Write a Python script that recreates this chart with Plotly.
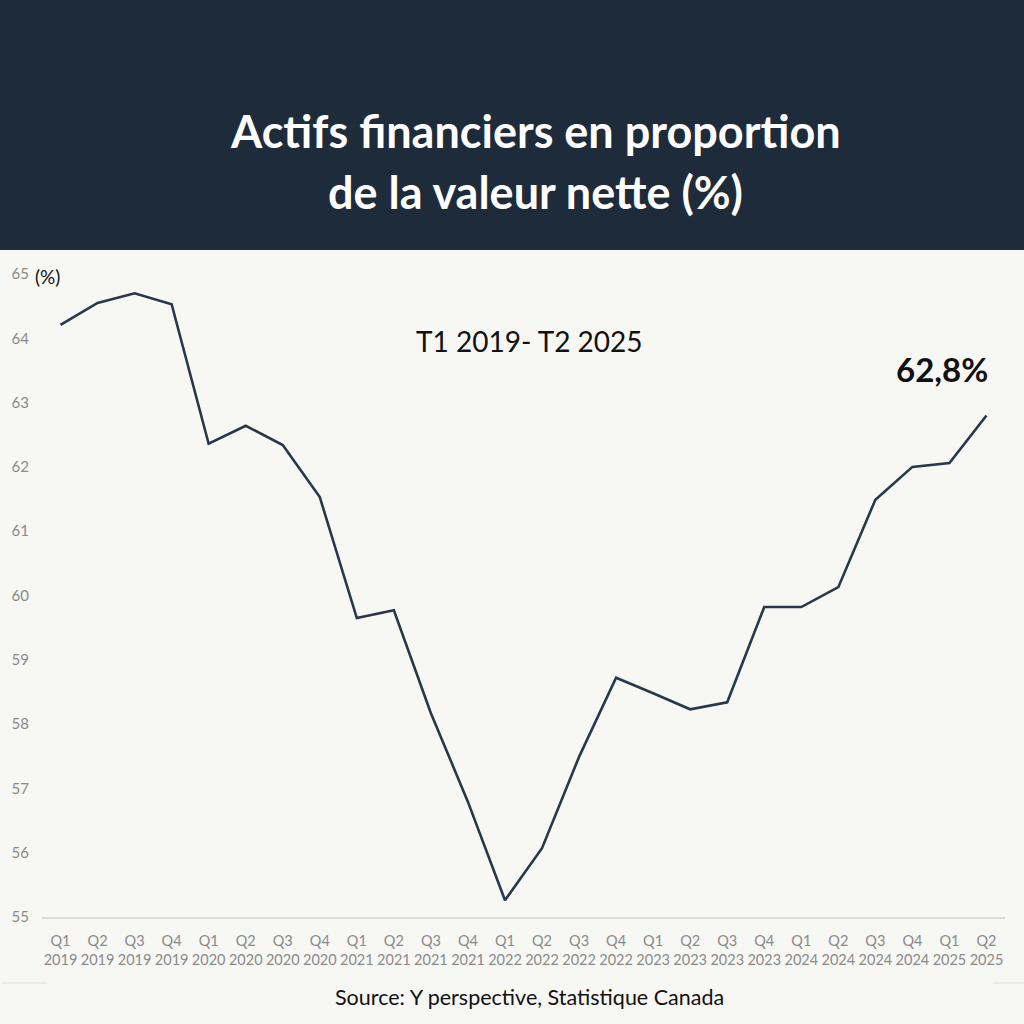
import plotly.graph_objects as go

# Data (quarterly, %)
quarters = ["Q1", "Q2", "Q3", "Q4"] * 6 + ["Q1", "Q2"]
years = [str(y) for y in range(2019, 2025) for _ in range(4)] + ["2025", "2025"]
tick_labels = [q + "<br>" + y for q, y in zip(quarters, years)]
values = [64.21, 64.55, 64.70, 64.53, 62.36, 62.64, 62.34, 61.53,
          59.65, 59.77, 58.17, 56.79, 55.26, 56.07, 57.49, 58.72,
          58.48, 58.23, 58.34, 59.82, 59.82, 60.13, 61.49, 62.00,
          62.06, 62.80]
y_ticks = list(range(55, 66))

W, H = 1024, 1024
L, R, T, B = 40, 19, 274, 107
pw, ph = W - L - R, H - T - B


def px_x(x):
    return (x - L) / pw


def px_y(y):
    return (H - B - y) / ph


navy = "#1e2b3b"
bg = "#f7f7f4"
font = "Lato"

fig = go.Figure()
fig.add_trace(go.Scatter(
    x=list(range(len(values))), y=values, mode="lines",
    line=dict(color="#27384a", width=2.6), hoverinfo="skip"))

fig.update_layout(
    width=W, height=H,
    margin=dict(l=L, r=R, t=T, b=B),
    paper_bgcolor=bg, plot_bgcolor=bg,
    showlegend=False,
    font=dict(family=font),
    xaxis=dict(
        range=[-0.5, len(values) - 0.5],
        tickmode="array", tickvals=list(range(len(values))), ticktext=tick_labels,
        tickfont=dict(size=14.5, color="#8a8a8a"), tickangle=0,
        showgrid=False, zeroline=False,
        showline=True, linecolor="#dcdcdc", linewidth=1.5,
        ticks="", ticklabelstandoff=10),
    yaxis=dict(
        range=[55, 65], tickvals=y_ticks,
        tickfont=dict(size=15, color="#8a8a8a"),
        showgrid=False, zeroline=False, showline=False, ticks="",
        ticklabelstandoff=12),
)

# header band
fig.add_shape(type="rect", xref="paper", yref="paper",
              x0=px_x(-5), x1=px_x(W + 5), y0=px_y(250), y1=px_y(-5),
              fillcolor=navy, line=dict(width=0), layer="below")
# small decorative rules near the footer
fig.add_shape(type="line", xref="paper", yref="paper",
              x0=px_x(0), x1=px_x(45), y0=px_y(983), y1=px_y(983),
              line=dict(color="#dedede", width=1))
fig.add_shape(type="line", xref="paper", yref="paper",
              x0=px_x(993), x1=px_x(W), y0=px_y(983), y1=px_y(983),
              line=dict(color="#dedede", width=1))

annotations = [
    dict(text="<b>Actifs financiers en proportion</b>",
         x=px_x(535), y=px_y(131), font=dict(size=45, color="white"),
         xanchor="center", yanchor="middle"),
    dict(text="<b>de la valeur nette (%)</b>",
         x=px_x(535), y=px_y(192), font=dict(size=45, color="white"),
         xanchor="center", yanchor="middle"),
    dict(text="T1 2019- T2 2025", x=px_x(529), y=px_y(341),
         font=dict(size=28, color="#111111"), xanchor="center", yanchor="middle"),
    dict(text="(%)", x=px_x(31), y=px_y(276),
         font=dict(size=19, color="#111111"), xanchor="left", yanchor="middle"),
    dict(text="<b>62,8%</b>", x=px_x(942), y=px_y(369),
         font=dict(size=33, color="#111111"), xanchor="center", yanchor="middle"),
    dict(text="Source: Y perspective, Statistique Canada", x=px_x(529), y=px_y(997),
         font=dict(size=21.5, color="#111111"), xanchor="center", yanchor="middle"),
]
for a in annotations:
    a.update(xref="paper", yref="paper", showarrow=False)
fig.update_layout(annotations=annotations)

# drop the default page margin so the figure fills the window
fig.write_html("out.html", config={"displayModeBar": False},
               post_script="document.body.style.margin='0px';")
